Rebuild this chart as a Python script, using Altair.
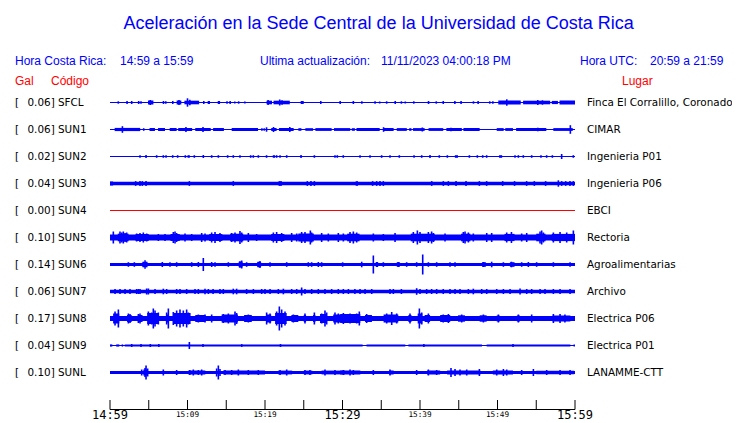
import altair as alt
import pandas as pd

# ---------------- data ----------------
STATIONS = ["SFCL", "SUN1", "SUN2", "SUN3", "SUN4", "SUN5", "SUN6", "SUN7", "SUN8", "SUN9", "SUNL"]
GAL = ["0.06", "0.06", "0.02", "0.04", "0.00", "0.10", "0.14", "0.06", "0.17", "0.04", "0.10"]
PLACES = ["Finca El Corralillo, Coronado", "CIMAR", "Ingenieria P01", "Ingenieria P06", "EBCI",
          "Rectoria", "Agroalimentarias", "Archivo", "Electrica P06", "Electrica P01", "LANAMME-CTT"]

# half-thickness of the continuous trace band (amplitude units)
BASE_AMP = [0.5, 0.5, 0.5, 1.7, 0.5, 2.9, 1.6, 1.7, 2.5, 0.5, 1.6]

# bursts: (start minute, end minute, half amplitude)
SEGMENTS = {
    "SFCL": [(4.9, 5.6, 2.0), (8.6, 9.2, 2.0), (9.6, 11.5, 1.8), (12.6, 12.9, 1.5), (13.9, 14.2, 1.5),
             (20.2, 20.9, 1.8), (21.1, 23.2, 1.8), (24.6, 25.0, 1.5), (27.1, 27.3, 1.5),
             (50.1, 53.0, 2.0), (53.3, 56.8, 1.8), (57.0, 57.8, 1.6), (58.0, 60.0, 2.0)],
    "SUN1": [(0.6, 3.9, 1.6), (5.1, 5.8, 1.5), (6.2, 7.1, 1.5), (7.7, 8.6, 1.5), (8.8, 10.6, 1.5),
             (11.0, 13.0, 1.5), (13.3, 14.7, 1.5), (15.7, 19.1, 1.5), (20.8, 21.5, 1.5), (21.8, 23.7, 1.5),
             (24.3, 24.7, 1.3), (25.2, 26.2, 1.3), (26.5, 28.6, 1.4), (28.9, 31.0, 1.4), (31.2, 31.6, 1.3),
             (31.8, 34.8, 1.4), (35.3, 36.6, 1.5), (37.0, 38.3, 1.4), (38.6, 38.9, 1.3), (39.1, 40.6, 1.4),
             (41.1, 43.0, 1.4), (43.4, 45.4, 1.5), (45.6, 47.7, 1.5), (49.9, 50.8, 1.4), (51.0, 52.0, 1.4),
             (52.4, 56.3, 1.5), (57.2, 59.4, 1.4)],
    "SUN2": [(10.0, 10.3, 1.3), (21.0, 21.3, 1.3), (44.5, 44.9, 1.3), (50.2, 50.6, 1.3)],
    "SUN3": [(0.0, 0.4, 2.0), (31.7, 32.0, 2.3)],
    "SUN5": [(1.0, 2.4, 3.8), (3.3, 5.0, 3.5), (7.8, 9.0, 3.5), (12.8, 14.5, 3.5), (15.5, 17.2, 3.8),
             (20.8, 22.5, 3.5), (24.3, 26.3, 4.0), (30.6, 32.2, 3.8), (38.8, 41.9, 3.8), (45.3, 46.5, 3.8),
             (50.9, 52.2, 3.6), (55.0, 56.2, 3.8), (57.0, 60.0, 3.6)],
    "SUN6": [(4.2, 4.8, 2.5), (16.6, 17.1, 2.8), (19.0, 19.5, 2.5), (34.3, 34.6, 2.5), (37.0, 37.4, 2.3),
             (48.0, 48.5, 2.3), (51.6, 52.2, 2.3)],
    "SUN8": [(0.4, 1.2, 5.0), (2.2, 2.8, 3.5), (3.6, 4.2, 3.5), (4.8, 6.2, 5.5), (7.3, 7.6, 4.0),
             (8.2, 10.4, 5.5), (11.0, 12.3, 3.5), (14.4, 16.5, 4.0), (17.3, 18.3, 3.5), (20.2, 20.8, 4.0),
             (21.3, 22.8, 5.5), (23.4, 24.3, 3.5), (25.0, 25.3, 3.5), (26.2, 26.5, 3.5), (27.1, 28.0, 4.5),
             (28.8, 30.3, 4.0), (29.7, 32.3, 4.5), (32.9, 33.8, 3.5), (35.3, 37.2, 4.0), (38.5, 38.9, 3.5),
             (39.7, 40.3, 5.0), (40.6, 41.3, 3.5), (42.6, 43.9, 3.5), (44.9, 45.8, 3.2), (47.7, 48.6, 3.2),
             (49.9, 50.3, 3.0), (52.5, 52.9, 3.0), (57.1, 59.4, 3.0)],
    "SUN9": [(0.0, 0.3, 1.1), (0.8, 1.2, 1.1), (1.5, 1.7, 1.1), (1.9, 32.6, 1.1), (33.1, 38.1, 1.1),
             (38.5, 48.0, 1.1), (48.6, 59.4, 1.1), (59.8, 60.0, 1.1)],
    "SUNL": [(4.3, 4.9, 3.0), (10.1, 12.3, 2.0), (14.6, 20.0, 1.9), (21.7, 23.5, 1.9), (25.0, 26.1, 1.9),
             (27.3, 30.3, 1.9), (29.7, 32.3, 2.0), (36.0, 36.6, 2.0), (40.9, 42.6, 2.0), (43.5, 47.8, 2.0),
             (49.4, 52.0, 2.0), (55.0, 59.9, 1.8)],
}

# individual peaks: (minute, half amplitude)
SPIKES = {
    "SFCL": [(1.07, 1.2), (2.2, 1.5), (2.8, 1.5), (3.7, 1.5), (4.0, 1.2), (5.2, 2.5), (6.9, 1.5), (7.2, 1.2),
             (8.1, 1.5), (8.9, 2.5), (10.0, 4.2), (10.3, 2.8), (12.1, 1.5), (15.1, 1.2), (15.5, 1.5),
             (16.1, 1.0), (16.6, 1.2), (17.4, 1.0), (20.4, 2.5), (21.9, 3.0), (22.2, 2.2), (29.7, 1.5),
             (31.4, 1.5), (32.5, 1.2), (34.2, 1.2), (34.8, 1.0), (35.7, 1.2), (36.8, 1.5), (37.6, 1.2),
             (38.1, 1.0), (39.2, 1.2), (41.1, 1.5), (42.1, 1.2), (43.0, 1.5), (44.5, 1.5), (45.3, 1.5),
             (46.9, 1.2), (47.5, 1.5), (49.0, 1.2), (49.4, 1.2), (51.2, 3.2), (55.2, 2.5), (55.8, 2.2)],
    "SUN1": [(1.6, 3.3), (4.35, 1.3), (9.8, 2.5), (12.0, 2.5), (19.6, 1.2), (19.9, 1.2), (20.2, 2.2),
             (21.1, 2.5), (23.2, 2.5), (35.3, 2.3), (40.3, 2.0), (44.0, 1.8), (55.2, 1.8), (59.4, 4.3),
             (59.6, 1.5)],
    "SUN2": [(3.87, 1.3), (4.65, 1.6), (6.02, 1.3), (6.88, 1.3), (7.23, 1.3), (8.09, 1.3), (8.73, 1.3),
             (9.72, 1.3), (10.88, 1.3), (12.04, 1.5), (13.12, 1.3), (13.98, 1.3), (15.18, 1.3), (15.91, 1.3),
             (16.77, 1.3), (18.15, 1.3), (18.49, 1.3), (19.14, 1.3), (20.2, 1.3), (21.5, 1.3), (21.94, 1.3),
             (22.8, 1.3), (24.65, 1.5), (26.37, 1.3), (29.03, 1.3), (29.33, 1.3), (30.1, 1.3), (32.26, 1.3),
             (33.55, 1.3), (35.05, 1.3), (36.13, 1.3), (37.33, 1.3), (39.23, 1.3), (40.22, 1.3), (41.29, 1.5),
             (42.49, 1.3), (43.53, 1.3), (46.37, 1.3), (47.4, 1.3), (48.09, 1.3), (48.6, 1.3), (52.26, 1.3),
             (52.69, 1.3), (53.33, 1.3), (54.41, 1.3), (55.61, 1.3), (56.34, 1.3), (57.08, 1.3), (58.28, 2.5),
             (59.78, 1.3)],
    "SUN3": [(3.31, 2.4), (3.87, 2.4), (4.17, 2.4), (4.65, 2.4), (10.24, 2.4), (15.91, 2.4), (21.85, 2.4),
             (22.06, 2.4), (25.46, 2.4), (25.93, 2.4), (26.37, 2.4), (33.89, 2.4), (34.41, 2.4), (34.84, 2.4),
             (35.27, 2.4), (41.51, 2.4), (43.01, 2.4), (43.66, 2.4), (44.65, 2.4), (45.94, 2.4), (47.66, 2.4),
             (48.6, 2.4), (50.67, 2.4), (52.2, 2.4), (53.76, 2.4), (54.75, 2.4), (56.21, 2.4), (57.85, 3.2),
             (58.28, 2.4), (58.8, 2.4), (59.35, 2.4), (59.78, 2.4)],
    "SUN5": [(0.43, 6.0), (1.29, 6.0), (1.51, 5.0), (1.72, 6.0), (1.94, 4.5), (2.15, 5.0), (3.44, 4.0),
             (3.87, 4.5), (4.30, 5.0), (4.73, 4.0), (6.24, 3.5), (7.1, 3.5), (8.17, 5.5), (8.39, 6.0),
             (8.60, 4.5), (9.68, 4.0), (10.54, 3.5), (11.83, 4.5), (12.26, 4.0), (13.12, 5.0), (13.55, 5.5),
             (14.19, 4.5), (15.70, 4.5), (16.13, 5.0), (16.77, 6.5), (16.99, 5.0), (17.85, 4.5), (18.92, 3.5),
             (21.08, 5.0), (21.5, 5.5), (22.15, 4.5), (23.44, 4.5), (24.09, 4.0), (24.73, 5.5), (25.16, 5.5),
             (25.85, 7.0), (26.02, 5.0), (27.31, 4.5), (28.17, 4.0), (29.46, 4.5), (30.11, 4.0), (30.97, 5.5),
             (31.4, 6.0), (31.83, 5.0), (33.98, 4.0), (35.27, 3.5), (36.78, 4.5), (39.14, 5.5), (39.66, 7.0),
             (40.0, 5.5), (41.08, 5.5), (41.5, 6.0), (41.72, 4.5), (43.23, 4.0), (45.59, 5.5), (45.81, 6.0),
             (46.24, 5.0), (46.88, 4.0), (48.61, 4.5), (49.25, 4.5), (51.19, 5.0), (51.8, 5.5), (53.12, 4.0),
             (53.77, 4.5), (55.49, 6.0), (55.7, 7.0), (55.92, 5.0), (57.21, 5.0), (58.07, 5.5), (58.93, 5.0),
             (59.79, 7.0)],
    "SUN6": [(2.37, 2.3), (3.14, 2.3), (4.30, 2.8), (4.52, 4.2), (4.73, 2.8), (6.75, 2.5), (7.74, 2.3),
             (8.60, 2.3), (10.54, 2.3), (11.40, 2.5), (12.04, 6.5), (13.12, 2.5), (13.55, 2.3), (15.27, 2.3),
             (16.77, 3.2), (16.99, 4.0), (17.63, 2.3), (19.14, 2.8), (19.35, 3.5), (20.65, 2.3), (22.8, 2.3),
             (25.59, 2.3), (26.02, 2.3), (26.88, 2.5), (27.31, 2.3), (30.02, 2.2), (32.48, 2.8), (33.98, 9.0),
             (34.41, 2.5), (35.27, 2.3), (37.21, 2.5), (38.28, 2.3), (39.57, 2.3), (40.35, 10.0), (41.08, 2.3),
             (42.15, 2.3), (43.87, 2.3), (44.52, 2.3), (48.2, 2.5), (49.25, 2.8), (50.76, 2.3), (51.8, 2.8),
             (53.12, 2.3), (53.98, 2.5), (55.05, 2.3), (57.21, 2.3), (59.36, 2.3)],
    "SUN7": [(0.65, 2.5), (1.29, 2.5), (1.94, 2.5), (2.58, 2.5), (3.44, 2.5), (3.66, 2.5), (3.87, 2.5),
             (4.73, 3.0), (4.95, 3.0), (5.81, 2.5), (6.88, 2.8), (7.31, 2.5), (8.60, 2.5), (9.03, 2.5),
             (9.89, 2.5), (10.97, 2.5), (11.40, 2.5), (12.26, 2.8), (12.69, 2.5), (13.3, 2.5), (14.19, 2.5),
             (14.62, 2.5), (15.91, 2.8), (16.34, 2.8), (17.63, 2.5), (18.5, 2.5), (19.57, 2.5), (20.0, 2.5),
             (20.65, 2.5), (21.72, 2.5), (22.37, 2.8), (23.44, 2.5), (24.09, 2.5), (24.73, 4.0), (25.16, 2.5),
             (26.02, 2.5), (26.88, 2.5), (27.74, 2.5), (28.6, 2.5), (29.46, 2.5), (30.11, 2.5), (30.76, 2.5),
             (31.6, 2.5), (32.26, 2.5), (32.91, 2.5), (33.77, 2.5), (36.13, 2.5), (36.56, 2.5), (37.6, 2.5),
             (39.57, 3.3), (40.0, 2.5), (40.86, 2.5), (41.5, 2.5), (42.15, 2.5), (43.0, 2.5), (43.87, 2.5),
             (44.52, 2.5), (45.16, 2.5), (46.24, 2.5), (46.88, 2.8), (47.96, 2.5), (48.61, 2.5), (49.9, 2.5),
             (50.76, 2.5), (51.62, 2.5), (52.91, 3.0), (53.77, 2.5), (54.41, 2.5), (55.49, 2.5), (56.13, 2.5),
             (57.21, 2.5), (58.07, 2.5), (59.36, 2.5)],
    "SUN8": [(0.65, 7.0), (1.08, 9.0), (2.37, 5.0), (2.58, 4.5), (3.66, 4.5), (3.87, 5.0), (4.95, 7.0),
             (5.38, 6.0), (5.59, 10.0), (5.81, 8.0), (6.24, 6.0), (7.31, 6.0), (7.53, 10.0), (8.17, 6.5),
             (8.60, 8.0), (9.03, 9.0), (9.46, 8.0), (9.89, 9.0), (10.11, 6.0), (11.40, 4.0), (12.26, 4.0),
             (13.12, 4.0), (14.62, 4.5), (15.27, 5.0), (16.13, 7.0), (16.34, 5.5), (17.85, 4.0), (20.21, 6.0),
             (20.65, 5.0), (21.5, 7.0), (21.85, 12.0), (22.15, 9.0), (22.58, 7.0), (23.66, 4.0), (25.16, 5.0),
             (26.37, 6.0), (27.31, 5.0), (27.74, 8.0), (27.96, 6.0), (29.03, 6.0), (29.46, 5.0), (30.11, 5.5),
             (30.97, 5.0), (31.83, 5.0), (32.17, 7.0), (33.12, 4.5), (35.7, 5.0), (36.35, 6.5), (36.99, 5.0),
             (38.71, 5.0), (39.92, 10.0), (40.22, 6.0), (41.08, 5.0), (43.0, 4.0), (43.66, 4.5), (45.38, 4.0),
             (48.18, 4.0), (50.11, 4.0), (52.69, 4.0), (54.41, 4.0), (57.21, 4.5), (58.07, 4.5), (58.7, 4.0)],
    "SUN9": [(2.8, 1.5), (4.0, 1.5), (5.2, 1.5), (6.3, 1.5), (10.24, 3.5), (12.0, 1.4), (17.0, 1.4),
             (22.0, 1.5), (40.5, 1.5), (52.0, 1.5)],
    "SUNL": [(4.09, 3.0), (4.52, 4.5), (4.65, 7.0), (4.86, 4.0), (6.88, 3.0), (8.60, 2.5), (10.3, 2.5),
             (10.75, 3.0), (11.40, 2.5), (11.83, 3.0), (13.76, 4.0), (13.98, 7.0), (14.19, 3.5), (14.84, 2.5),
             (15.70, 2.5), (16.56, 3.0), (17.85, 2.5), (19.14, 2.5), (21.94, 2.5), (22.8, 3.0), (25.16, 2.5),
             (25.8, 2.5), (27.74, 3.0), (29.03, 2.5), (30.11, 2.5), (30.97, 3.0), (31.4, 2.5), (33.98, 2.5),
             (36.13, 3.0), (39.57, 2.5), (41.08, 3.0), (42.15, 2.5), (44.0, 4.5), (44.52, 3.5), (45.16, 3.0),
             (46.03, 3.0), (47.66, 3.5), (49.9, 3.0), (50.76, 3.5), (51.19, 3.0), (53.12, 2.5), (54.63, 3.5),
             (56.35, 2.5), (58.07, 2.5), (59.36, 2.5)],
}

TICK_MINUTES = [0, 5, 10, 15, 20, 25, 30, 35, 40, 45, 50, 55, 60]
MAJOR_LABELS = {0: "14:59", 30: "15:29", 60: "15:59"}
MINOR_LABELS = {10: "15:09", 20: "15:19", 40: "15:39", 50: "15:49"}

TITLE = "Aceleración en la Sede Central de la Universidad de Costa Rica"

# ---------------- layout ----------------
W, H = 465, 319
TOP, PITCH = 12.5, 27
BLUE, RED = "#0000ff", "#ff0000"
COLORS = [RED if s == "SUN4" else BLUE for s in STATIONS]

centers = {s: TOP + PITCH * i for i, s in enumerate(STATIONS)}

band_rows, spike_rows = [], []
for i, s in enumerate(STATIONS):
    c = centers[s]
    if s != "SUN9":
        band_rows.append(dict(station=s, x0=0, x1=60, y0=c - BASE_AMP[i], y1=c + BASE_AMP[i]))
    else:
        band_rows.append(dict(station=s, x0=0, x1=60, y0=c - 0.5, y1=c + 0.5))
    for a, b, amp in SEGMENTS.get(s, []):
        band_rows.append(dict(station=s, x0=a, x1=b, y0=c - amp, y1=c + amp))
    for m, amp in SPIKES.get(s, []):
        spike_rows.append(dict(station=s, m=m, y0=c - amp, y1=c + amp))

df_band = pd.DataFrame(band_rows)
df_spk = pd.DataFrame(spike_rows)
df_lab = pd.DataFrame({"station": STATIONS, "y": [centers[s] for s in STATIONS],
                       "left": [f"{g}] {s}" for g, s in zip(GAL, STATIONS)],
                       "place": PLACES, "br": ["["] * len(STATIONS)})

xs = alt.Scale(domain=[0, 60], nice=False, zero=False)
ys = alt.Scale(domain=[0, H], reverse=True, nice=False, zero=False)
col = alt.Color("station:N", scale=alt.Scale(domain=STATIONS, range=COLORS), legend=None)

bands = alt.Chart(df_band).mark_rect().encode(
    x=alt.X("x0:Q", scale=xs, axis=None), x2="x1:Q",
    y=alt.Y("y0:Q", scale=ys, axis=None), y2="y1:Q", color=col)

spikes = alt.Chart(df_spk).mark_rule(strokeWidth=1.6).encode(
    x=alt.X("m:Q", scale=xs, axis=None),
    y=alt.Y("y0:Q", scale=ys, axis=None), y2="y1:Q", color=col)

lab_font = dict(font="DejaVu Sans", fontSize=10.4, color="black", baseline="middle")
left_br = alt.Chart(df_lab).mark_text(align="left", **lab_font).encode(
    x=alt.value(-95), y=alt.Y("y:Q", scale=ys, axis=None), text="br:N")
left_lab = alt.Chart(df_lab).mark_text(align="left", **lab_font).encode(
    x=alt.value(-82.5), y=alt.Y("y:Q", scale=ys, axis=None), text="left:N")
right_lab = alt.Chart(df_lab).mark_text(align="left", **lab_font).encode(
    x=alt.value(477), y=alt.Y("y:Q", scale=ys, axis=None), text="place:N")

# x axis drawn with upward ticks
df_ticks = pd.DataFrame({"m": TICK_MINUTES})
axis_line = alt.Chart(pd.DataFrame({"a": [0], "b": [60]})).mark_rule(color="black", strokeWidth=1).encode(
    x=alt.X("a:Q", scale=xs, axis=None), x2="b:Q", y=alt.value(H + 0.5))
ticks = alt.Chart(df_ticks).mark_rule(color="black", strokeWidth=1).encode(
    x=alt.X("m:Q", scale=xs, axis=None), y=alt.value(H - 9), y2=alt.value(H + 0.5))
df_major = pd.DataFrame({"m": list(MAJOR_LABELS.keys()), "t": list(MAJOR_LABELS.values())})
df_minor = pd.DataFrame({"m": list(MINOR_LABELS.keys()), "t": list(MINOR_LABELS.values())})
major = alt.Chart(df_major).mark_text(font="DejaVu Sans Mono", fontSize=12, color="black",
                                      align="center", baseline="alphabetic").encode(
    x=alt.X("m:Q", scale=xs, axis=None), y=alt.value(H + 10), text="t:N")
minor = alt.Chart(df_minor).mark_text(font="DejaVu Sans Mono", fontSize=7.7, color="black",
                                      align="center", baseline="alphabetic").encode(
    x=alt.X("m:Q", scale=xs, axis=None), y=alt.value(H + 7.7), text="t:N")


def txt(s, x, y, size, color, align="left"):
    return alt.Chart(pd.DataFrame({"t": [s]})).mark_text(
        font="Liberation Sans", fontSize=size, color=color, align=align, baseline="alphabetic"
    ).encode(x=alt.value(x), y=alt.value(y), text="t:N")


headers = [
    txt(TITLE, 268.6, -61, 18, BLUE, "center"),
    txt("Hora Costa Rica:", -95, -25.5, 12, BLUE),
    txt("14:59 a 15:59", 10, -25.5, 12, BLUE),
    txt("Ultima actualización:", 150, -25.5, 12, BLUE),
    txt("11/11/2023 04:00:18 PM", 271, -25.5, 12, BLUE),
    txt("Hora UTC:", 470, -25.5, 12, BLUE),
    txt("20:59 a 21:59", 540, -25.5, 12, BLUE),
    txt("Gal", -95, -5.5, 12, RED),
    txt("Código", -59, -5.5, 12, RED),
    txt("Lugar", 512, -5.5, 12, RED),
]

chart = alt.layer(bands, spikes, left_br, left_lab, right_lab, axis_line, ticks, major, minor, *headers).properties(
    width=W, height=H,
    padding={"left": 102, "top": 82, "right": 157, "bottom": 14},
    autosize=alt.AutoSizeParams(type="none"),
    background="white",
).configure_view(stroke=None)

chart.save("out.html", embed_options={"renderer": "svg", "actions": False})
